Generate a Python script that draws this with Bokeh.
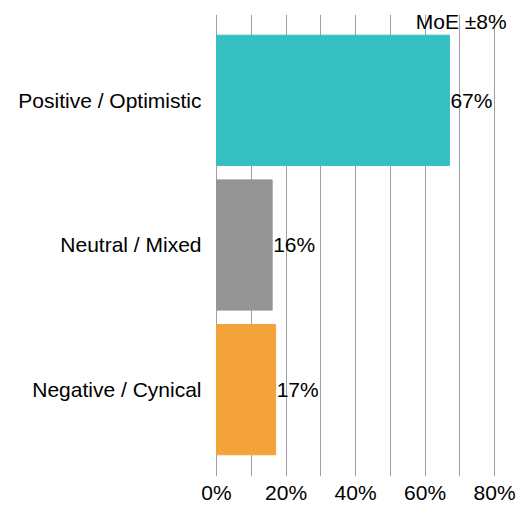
from bokeh.plotting import figure
from bokeh.models import Range1d, FixedTicker, ColumnDataSource
from bokeh.core.properties import value
from bokeh.embed import file_html
from bokeh.resources import INLINE

categories = ["Negative / Cynical", "Neutral / Mixed", "Positive / Optimistic"]
values = [17, 16, 67]
colors = ["#F3A33A", "#949494", "#35BFC1"]
x_ticks = [0, 20, 40, 60, 80]
grid_ticks = [0, 10, 20, 30, 40, 50, 60, 70, 80]
moe_text = "MoE ±8%"

FONT = "Liberation Sans"
FS = "21px"

ypos = list(range(len(categories)))
src = ColumnDataSource(dict(
    y=ypos, v=values, c=colors,
    lab=[f"{v}%" for v in values],
))

p = figure(width=520, height=506, output_backend="svg", toolbar_location=None,
           x_range=Range1d(-0.3, 84), y_range=Range1d(-0.6, 2.593),
           min_border_left=215, min_border_right=12,
           min_border_top=14, min_border_bottom=29)
p.outline_line_color = None
p.background_fill_color = "white"

p.hbar(y="y", right="v", left=0, height=0.9, color="c", source=src)
p.text(x="v", y="y", text="lab", source=src, x_offset=1,
       text_align="left", text_baseline="middle",
       text_font=value(FONT), text_font_size=FS, text_color="black")
p.text(x=[x_ticks[-1]], y=[2.545], text=[moe_text], x_offset=12,
       text_align="right", text_baseline="middle",
       text_font=value(FONT), text_font_size=FS, text_color="black")

# grid
p.ygrid.grid_line_color = None
p.xgrid.ticker = FixedTicker(ticks=grid_ticks)
p.xgrid.grid_line_color = "#A0A0A0"
p.xgrid.grid_line_width = 1
p.xgrid.level = "underlay"

# x axis
p.xaxis.ticker = FixedTicker(ticks=x_ticks)
p.xaxis.major_label_overrides = {t: f"{t}%" for t in x_ticks}
p.xaxis.axis_line_color = None
p.xaxis.major_tick_line_color = None
p.xaxis.minor_tick_line_color = None
p.xaxis.major_tick_out = 0
p.xaxis.major_tick_in = 0
p.xaxis.major_label_standoff = 4
p.xaxis.major_label_text_font = FONT
p.xaxis.major_label_text_font_size = FS
p.xaxis.major_label_text_color = "black"

# y axis
p.yaxis.ticker = FixedTicker(ticks=ypos)
p.yaxis.major_label_overrides = {i: c for i, c in zip(ypos, categories)}
p.yaxis.axis_line_color = None
p.yaxis.major_tick_line_color = None
p.yaxis.minor_tick_line_color = None
p.yaxis.major_tick_out = 0
p.yaxis.major_tick_in = 0
p.yaxis.major_label_standoff = 14
p.yaxis.major_label_text_font = FONT
p.yaxis.major_label_text_font_size = FS
p.yaxis.major_label_text_color = "black"

open("out.html", "w").write(file_html(p, INLINE))
